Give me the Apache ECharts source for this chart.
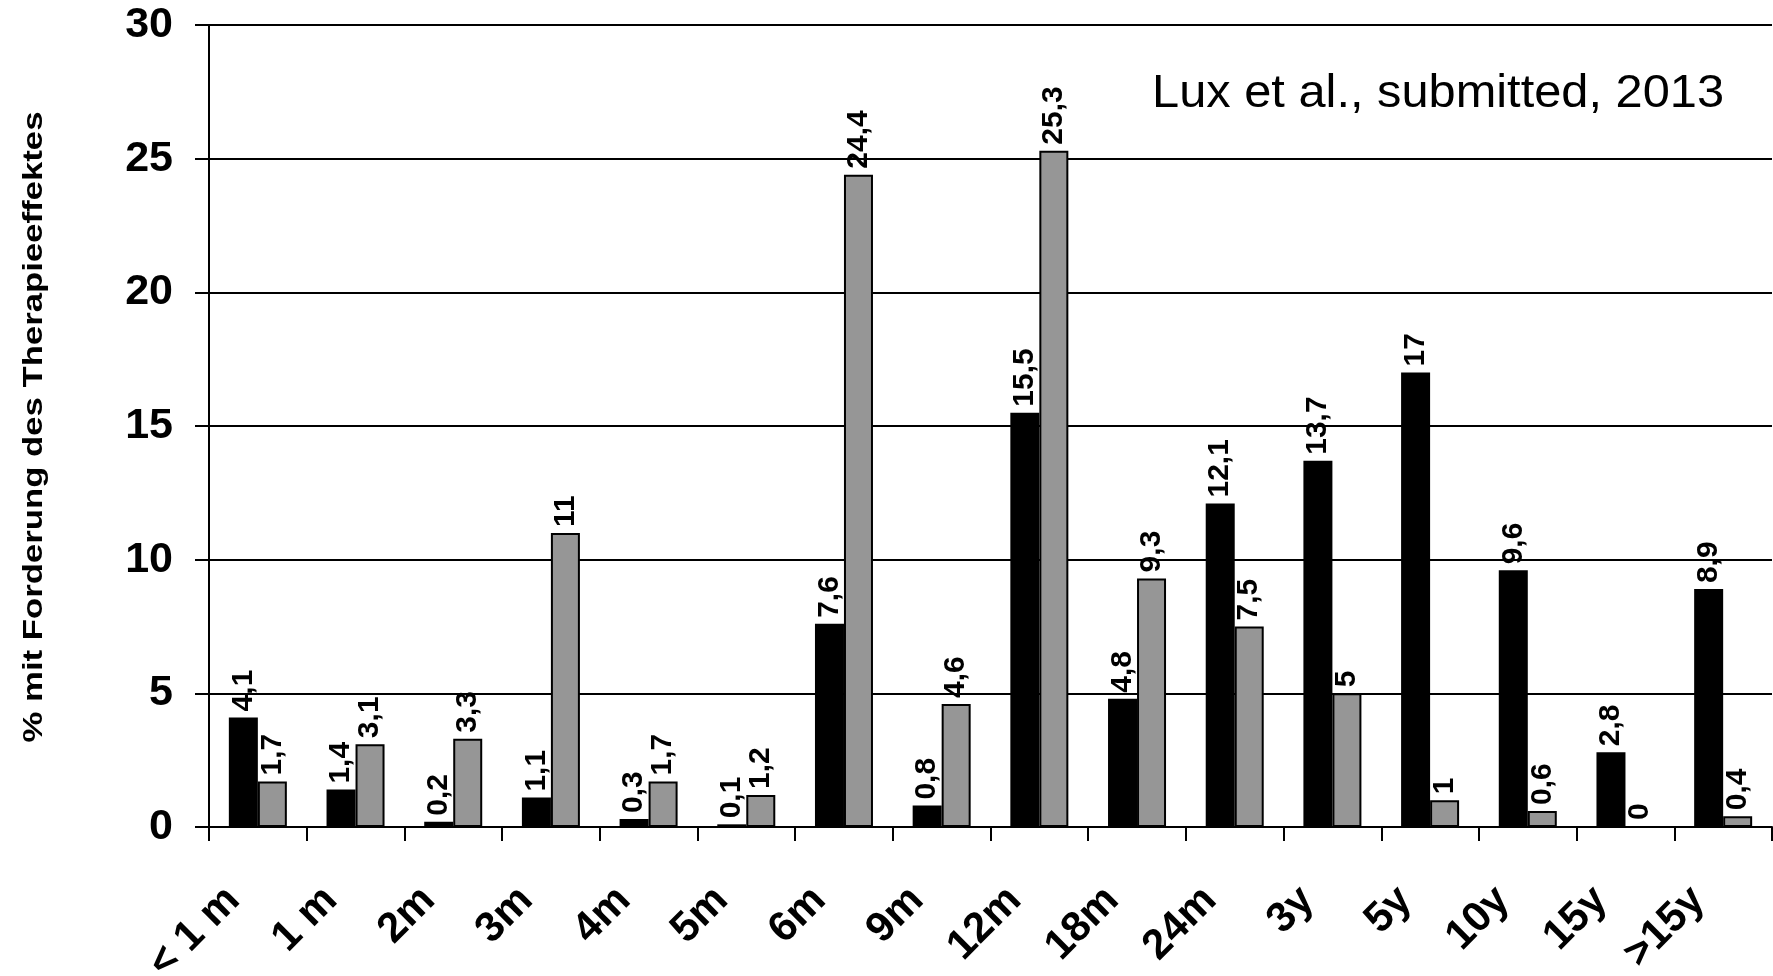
<!DOCTYPE html>
<html>
<head>
<meta charset="utf-8">
<title>Therapieeffekt</title>
<script src="https://cdn.jsdelivr.net/npm/echarts@6/dist/echarts.min.js"></script>
<style>
  html, body { margin: 0; padding: 0; background: #fff; }
  #chart { width: 1773px; height: 976px; }
</style>
</head>
<body>
<div id="chart"></div>
<script>
// Zeitpunkt der Therapieeffekt-Forderung
const categories = ['< 1 m', '1 m', '2m', '3m', '4m', '5m', '6m', '9m', '12m', '18m', '24m', '3y', '5y', '10y', '15y', '>15y']
const blackValues = [4.1, 1.4, 0.2, 1.1, 0.3, 0.1, 7.6, 0.8, 15.5, 4.8, 12.1, 13.7, 17, 9.6, 2.8, 8.9]
const greyValues = [1.7, 3.1, 3.3, 11, 1.7, 1.2, 24.4, 4.6, 25.3, 9.3, 7.5, 5, 1, 0.6, 0, 0.4]
const yTicks = [0, 5, 10, 15, 20, 25, 30]

const font = '"Liberation Sans", Arial, sans-serif'

const myChart = echarts.init(document.getElementById('chart'))

function valueLabel (params) {
  return String(params.value).replace('.', ',')
}

const labelStyle = {
  show: true,
  position: 'top',
  rotate: 90,
  align: 'left',
  verticalAlign: 'middle',
  distance: 6,
  fontFamily: font,
  fontWeight: 'bold',
  fontSize: 30,
  color: '#000',
  formatter: valueLabel
}

const option = {
  backgroundColor: '#fff',
  animation: false,
  grid: {
    left: 209,
    right: 1,
    top: 25,
    bottom: 149,
    containLabel: false,
    outerBoundsMode: 'none'
  },
  graphic: [
    {
      type: 'text',
      x: 34,
      y: 427,
      rotation: Math.PI / 2,
      scaleX: 1.24,
      style: {
        text: '% mit Forderung des Therapieeffektes',
        fontFamily: font,
        fontWeight: 'bold',
        fontSize: 28,
        fill: '#000',
        align: 'center',
        verticalAlign: 'middle'
      }
    },
    {
      type: 'text',
      x: 1724,
      y: 94,
      scaleX: 1.06,
      style: {
        text: 'Lux et al., submitted, 2013',
        fontFamily: font,
        fontSize: 46,
        fill: '#000',
        align: 'right',
        verticalAlign: 'middle'
      }
    }
  ],
  xAxis: {
    type: 'category',
    data: categories,
    axisLine: { lineStyle: { color: '#000', width: 2 } },
    axisTick: { show: true, length: 14, lineStyle: { color: '#000', width: 2 } },
    axisLabel: {
      interval: 0,
      rotate: 45,
      margin: 42,
      padding: [0, 35, 0, 0],
      fontFamily: font,
      fontWeight: 'bold',
      fontSize: 42,
      color: '#000'
    }
  },
  yAxis: {
    type: 'value',
    min: yTicks[0],
    max: yTicks[yTicks.length - 1],
    interval: 5,
    axisLine: { show: true, lineStyle: { color: '#000', width: 2 } },
    axisTick: { show: true, length: 14, lineStyle: { color: '#000', width: 2 } },
    splitLine: { lineStyle: { color: '#000', width: 2 } },
    axisLabel: {
      margin: 36,
      fontFamily: font,
      fontWeight: 'bold',
      fontSize: 43,
      color: '#000'
    }
  },
  series: [
    {
      name: 'schwarz',
      type: 'bar',
      data: blackValues,
      barWidth: 29,
      barGap: 0,
      itemStyle: { color: '#000', borderColor: '#000', borderWidth: 2 },
      label: labelStyle
    },
    {
      name: 'grau',
      type: 'bar',
      data: greyValues,
      barWidth: 29,
      barGap: 0,
      itemStyle: { color: '#969696', borderColor: '#000', borderWidth: 2 },
      label: labelStyle
    }
  ]
}

myChart.setOption(option)
</script>
</body>
</html>
